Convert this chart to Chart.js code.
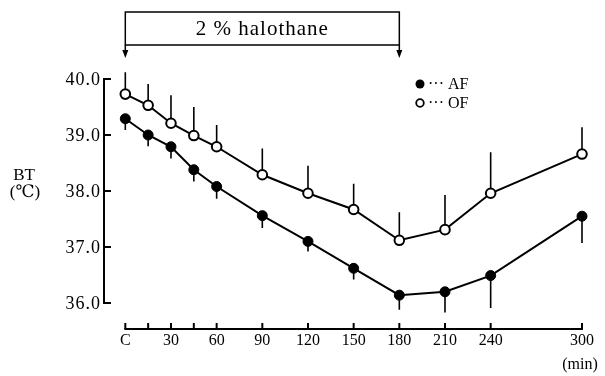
<!DOCTYPE html>
<html>
<head>
<meta charset="utf-8">
<script src="https://cdn.jsdelivr.net/npm/chart.js@4"></script>
<style>
  html, body { margin: 0; padding: 0; background: #fff; }
  #wrap { width: 605px; height: 376px; }
</style>
</head>
<body>
<div id="wrap"><canvas id="btChart" width="605" height="376"></canvas></div>
<script>
// time points (min), 0 = control "C"
const minutes = [0, 15, 30, 45, 60, 90, 120, 150, 180, 210, 240, 300];
const ofMean = [39.73, 39.53, 39.21, 38.99, 38.79, 38.29, 37.96, 37.67, 37.12, 37.31, 37.96, 38.66];
const ofSd = [0.39, 0.38, 0.50, 0.51, 0.39, 0.47, 0.49, 0.46, 0.50, 0.62, 0.73, 0.48];
const afMean = [39.29, 39.00, 38.79, 38.38, 38.08, 37.56, 37.10, 36.62, 36.14, 36.20, 36.49, 37.55];
const afSd = [0.20, 0.20, 0.21, 0.21, 0.22, 0.22, 0.18, 0.20, 0.26, 0.37, 0.58, 0.48];

const xTickMarks = [0, 15, 30, 45, 60, 90, 120, 150, 180, 210, 240, 300];
const xTickValues = [0, 30, 60, 90, 120, 150, 180, 210, 240, 300];
const xTickLabels = ["C", "30", "60", "90", "120", "150", "180", "210", "240", "300"];
const yTickValues = [36, 37, 38, 39, 40];
const yTickLabels = ["36.0", "37.0", "38.0", "39.0", "40.0"];
const halothane = [0, 180];

const SERIF = '"Liberation Serif", "DejaVu Serif", serif';

// error bars: OF upward, AF downward
const errorBars = {
  id: "errorBars",
  beforeDatasetsDraw(chart) {
    const { ctx, scales: { x, y } } = chart;
    ctx.save();
    ctx.strokeStyle = "#000";
    ctx.lineWidth = 1.6;
    minutes.forEach((m, i) => {
      const px = x.getPixelForValue(m);
      ctx.beginPath();
      ctx.moveTo(px, y.getPixelForValue(ofMean[i]));
      ctx.lineTo(px, y.getPixelForValue(ofMean[i] + ofSd[i]));
      ctx.moveTo(px, y.getPixelForValue(afMean[i]));
      ctx.lineTo(px, y.getPixelForValue(afMean[i] - afSd[i]));
      ctx.stroke();
    });
    ctx.restore();
  }
};

// axes, labels, halothane box and legend
const decorations = {
  id: "decorations",
  afterDraw(chart) {
    const { ctx, chartArea, scales: { x, y } } = chart;
    ctx.save();
    ctx.strokeStyle = "#000";
    ctx.fillStyle = "#000";

    // y axis (detached, left)
    const yAxisX = chartArea.left;
    ctx.lineWidth = 2;
    ctx.beginPath();
    ctx.moveTo(yAxisX, y.getPixelForValue(40));
    ctx.lineTo(yAxisX, y.getPixelForValue(36));
    ctx.stroke();
    ctx.font = "18px " + SERIF;
    ctx.letterSpacing = "1px";
    ctx.textAlign = "right";
    ctx.textBaseline = "middle";
    yTickValues.forEach((v, i) => {
      const py = y.getPixelForValue(v);
      ctx.beginPath();
      ctx.moveTo(yAxisX - 1, py);
      ctx.lineTo(yAxisX + 7, py);
      ctx.stroke();
      ctx.fillText(yTickLabels[i], yAxisX - 3, py + 1);
    });
    ctx.letterSpacing = "0px";
    ctx.textAlign = "center";
    ctx.font = "17px " + SERIF;
    ctx.fillText("BT", 24, 176);
    ctx.fillText("(℃)", 25, 193);

    // x axis (detached, bottom)
    const xAxisY = chartArea.bottom;
    ctx.lineWidth = 2;
    ctx.beginPath();
    ctx.moveTo(x.getPixelForValue(0) - 1, xAxisY);
    ctx.lineTo(x.getPixelForValue(300) + 1, xAxisY);
    ctx.stroke();
    xTickMarks.forEach((m) => {
      const px = x.getPixelForValue(m);
      ctx.beginPath();
      ctx.moveTo(px, xAxisY);
      ctx.lineTo(px, xAxisY - 6);
      ctx.stroke();
    });
    ctx.font = "16px " + SERIF;
    ctx.textBaseline = "top";
    xTickValues.forEach((m, i) => {
      ctx.fillText(xTickLabels[i], x.getPixelForValue(m), xAxisY + 4);
    });
    ctx.fillText("(min)", 580, 357);

    // halothane box with arrows
    const bx0 = x.getPixelForValue(halothane[0]);
    const bx1 = x.getPixelForValue(halothane[1]);
    ctx.lineWidth = 1.5;
    ctx.strokeRect(bx0, 12, bx1 - bx0, 33);
    [bx0, bx1].forEach((bx) => {
      ctx.beginPath();
      ctx.moveTo(bx, 45);
      ctx.lineTo(bx, 52);
      ctx.stroke();
      ctx.beginPath();
      ctx.moveTo(bx - 3, 50);
      ctx.lineTo(bx + 3, 50);
      ctx.lineTo(bx, 58);
      ctx.closePath();
      ctx.fill();
    });
    ctx.font = "21px " + SERIF;
    ctx.letterSpacing = "1px";
    ctx.textBaseline = "middle";
    ctx.fillText("2 % halothane", (bx0 + bx1) / 2, 29);
    ctx.letterSpacing = "0px";

    // legend
    ctx.textAlign = "left";
    ctx.font = "16px " + SERIF;
    ctx.beginPath();
    ctx.arc(420, 84, 4.5, 0, Math.PI * 2);
    ctx.fill();
    ctx.fillText("··· AF", 428, 85);
    ctx.beginPath();
    ctx.arc(420, 103, 3.8, 0, Math.PI * 2);
    ctx.fillStyle = "#fff";
    ctx.fill();
    ctx.lineWidth = 1.8;
    ctx.stroke();
    ctx.fillStyle = "#000";
    ctx.fillText("··· OF", 428, 104);
    ctx.restore();
  }
};

const ctx = document.getElementById("btChart").getContext("2d");

new Chart(ctx, {
  type: "line",
  data: {
    datasets: [
      {
        label: "OF",
        data: minutes.map((m, i) => ({ x: m, y: ofMean[i] })),
        borderColor: "#000",
        borderWidth: 2,
        pointRadius: 4.8,
        pointBorderWidth: 2,
        pointBackgroundColor: "#fff",
        pointBorderColor: "#000",
        tension: 0,
        clip: false
      },
      {
        label: "AF",
        data: minutes.map((m, i) => ({ x: m, y: afMean[i] })),
        borderColor: "#000",
        borderWidth: 2,
        pointRadius: 5,
        pointBorderWidth: 1,
        pointBackgroundColor: "#000",
        pointBorderColor: "#000",
        tension: 0,
        clip: false
      }
    ]
  },
  options: {
    responsive: false,
    animation: false,
    layout: { padding: { left: 104, right: 23, top: 79, bottom: 47 } },
    scales: {
      x: { type: "linear", min: -14, max: 300, display: false },
      y: { type: "linear", min: 35.536, max: 40, display: false }
    },
    plugins: {
      legend: { display: false },
      tooltip: { enabled: false }
    }
  },
  plugins: [errorBars, decorations]
});
</script>
</body>
</html>
